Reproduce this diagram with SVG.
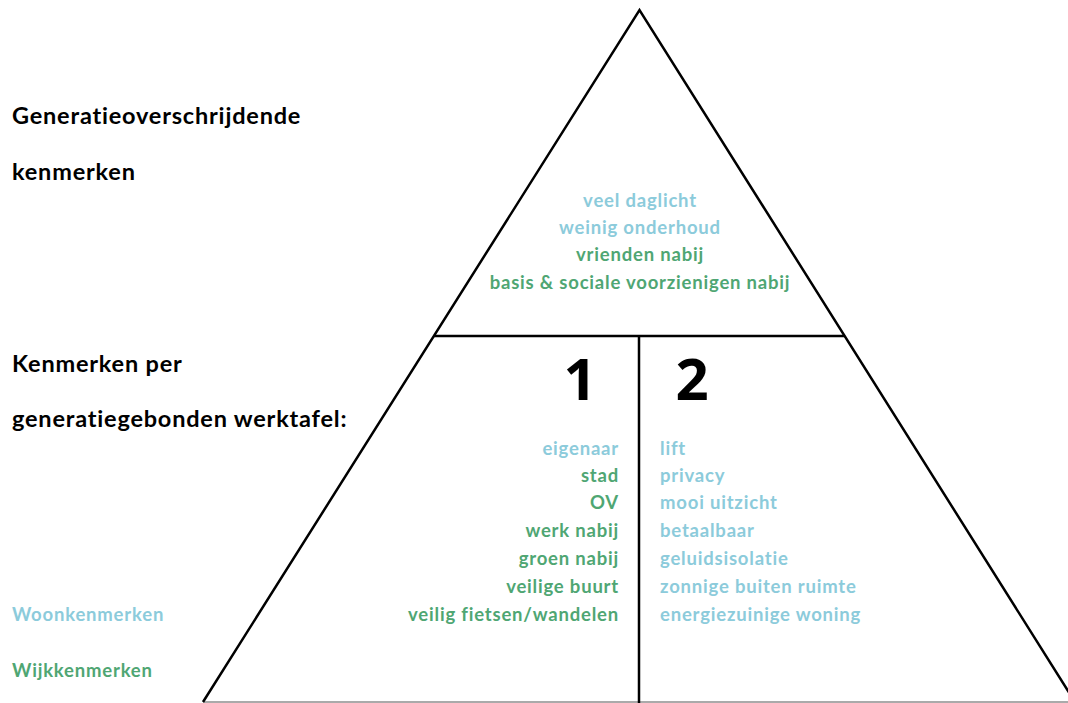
<svg xmlns="http://www.w3.org/2000/svg" width="1068" height="703" viewBox="0 0 1068 703">
<style>
.h{font-family:Lato,"Open Sans",sans-serif;font-weight:700;font-size:23.5px;letter-spacing:0.8px;fill:#000}
.t{font-family:Lato,"Open Sans",sans-serif;font-weight:700;font-size:18.5px;letter-spacing:0.8px}
.b{fill:#8ccbdb}
.g{fill:#4fa673}
.n{font-family:"Open Sans","DejaVu Sans",sans-serif;font-weight:700;font-size:58px;fill:#000}
.ln{stroke:#000;stroke-width:2.5;fill:none}
</style>
<rect width="1068" height="703" fill="#fff"/>
<g id="pyramid">
<line x1="203" y1="702" x2="1068" y2="702" stroke="#aaa" stroke-width="2"/>
<path class="ln" d="M203 702 L639.5 10 L1075 702"/>
<line class="ln" x1="434" y1="336" x2="845" y2="336"/>
<line class="ln" x1="639" y1="336" x2="639" y2="703"/>
</g>
<g id="labels">
<text class="h" x="12" y="124">Generatieoverschrijdende</text>
<text class="h" x="12" y="180">kenmerken</text>
<text class="h" x="12" y="372">Kenmerken per</text>
<text class="h" x="12" y="427">generatiegebonden werktafel:</text>
<text class="t b" x="12" y="621">Woonkenmerken</text>
<text class="t g" x="12" y="677">Wijkkenmerken</text>
</g>
<g id="top" text-anchor="middle">
<text class="t b" x="640" y="207">veel daglicht</text>
<text class="t b" x="640" y="234">weinig onderhoud</text>
<text class="t g" x="640" y="261">vrienden nabij</text>
<text class="t g" x="640" y="289">basis &amp; sociale voorzienigen nabij</text>
</g>
<g id="col1">
<text class="n" x="580" y="400" text-anchor="middle">1</text>
<g text-anchor="end">
<text class="t b" x="619" y="455">eigenaar</text>
<text class="t g" x="619" y="482">stad</text>
<text class="t g" x="619" y="509">OV</text>
<text class="t g" x="619" y="537">werk nabij</text>
<text class="t g" x="619" y="565">groen nabij</text>
<text class="t g" x="619" y="593">veilige buurt</text>
<text class="t g" x="619" y="621">veilig fietsen/wandelen</text>
</g>
</g>
<g id="col2">
<text class="n" x="692" y="400" text-anchor="middle">2</text>
<text class="t b" x="660" y="455">lift</text>
<text class="t b" x="660" y="482">privacy</text>
<text class="t b" x="660" y="509">mooi uitzicht</text>
<text class="t b" x="660" y="537">betaalbaar</text>
<text class="t b" x="660" y="565">geluidsisolatie</text>
<text class="t b" x="660" y="593">zonnige buiten ruimte</text>
<text class="t b" x="660" y="621">energiezuinige woning</text>
</g>
</svg>
